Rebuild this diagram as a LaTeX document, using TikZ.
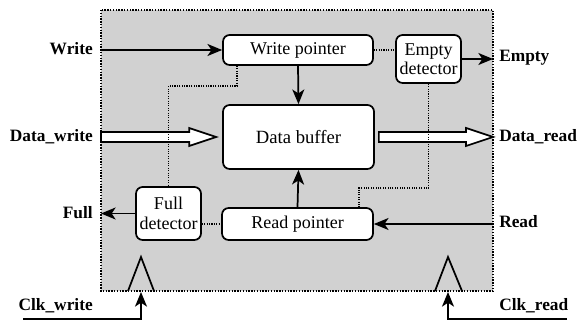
\documentclass[tikz,border=0pt]{standalone}
\usepackage{fontspec}
\setmainfont{Liberation Serif}
\usetikzlibrary{arrows.meta,calc}
\newcommand{\fatarrow}[2]{%
  \draw[fat] ($(#1)+(0,-5)$) -- ($(#2)+(-27,-5)$) -- ($(#2)+(-27,-9)$) -- (#2)
    -- ($(#2)+(-27,9)$) -- ($(#2)+(-27,5)$) -- ($(#1)+(0,5)$) -- cycle;}

\begin{document}
\begin{tikzpicture}[x=0.75pt,y=-0.75pt,
    blk/.style={draw,line width=1.3pt,rounded corners=5pt,fill=white,align=center,
      inner sep=0pt,font=\fontsize{13.5}{14.5}\selectfont},
    lbl/.style={inner sep=0pt,font=\fontsize{13}{15}\selectfont\bfseries},
    arr/.style={-{Stealth[length=11pt,width=9pt,inset=3pt]},line width=1.3pt},
    sig/.style={densely dotted,line width=0.8pt},
    fat/.style={line width=1.3pt,fill=white}]
    \useasboundingbox (0,0) rectangle (585,320);
    \coordinate (nw) at (101,10);
    \coordinate (se) at (493,291);
    \fill[black!18] (nw) rectangle (se);
    \draw[densely dotted,line width=1.1pt] (nw) rectangle (se);

    \node[blk,minimum width=112.5pt,minimum height=22.5pt] (wp) at (298,50) {Write pointer};
    \node[blk,minimum width=48.75pt,minimum height=36pt] (ed) at (428.5,59) {Empty\\detector};
    \node[blk,minimum width=113.25pt,minimum height=48pt,font=\fontsize{14}{15}\selectfont] (buf) at (298.5,137) {Data buffer};
    \node[blk,minimum width=113.25pt,minimum height=24pt] (rp) at (297.5,224) {Read pointer};
    \node[blk,minimum width=48.75pt,minimum height=39.75pt] (fd) at (168.5,213.5) {Full\\detector};

    \node[lbl,anchor=east] (lwr) at (93,49) {Write};
    \node[lbl,anchor=east] (ldw) at (93,137) {Data\_write};
    \node[lbl,anchor=east] (lfu) at (93,213) {Full};
    \node[lbl,anchor=east] (lcw) at (93,306) {Clk\_write};
    \node[lbl,anchor=west] (lem) at (499,58) {Empty};
    \node[lbl,anchor=west] (ldr) at (499,137) {Data\_read};
    \node[lbl,anchor=west] (lrd) at (499,222) {Read};
    \node[lbl,anchor=west] (lcr) at (499,306) {Clk\_read};

    \draw[arr] (nw |- wp.west) -- (wp.west);
    \draw[arr] (ed.east) -- (ed.east -| se);
    \draw[arr] (fd.west) -- (fd.west -| nw);
    \draw[arr] (se |- rp.east) -- (rp.east);
    \draw[arr] (wp.south) -- (buf.north);
    \draw[arr] (rp.north) -- (buf.south);

    \coordinate (dw0) at (nw |- buf.west);
    \coordinate (dw1) at ([xshift=-4.5pt]buf.west);
    \coordinate (dr0) at ([xshift=3pt]buf.east);
    \coordinate (dr1) at (se |- buf.east);
    \fatarrow{dw0}{dw1}
    \fatarrow{dr0}{dr1}

    \coordinate (wpa) at (237,86);
    \coordinate (rpa) at (359,188);
    \draw[sig] (wp.east) -- (wp.east -| ed.west);
    \draw[sig] (wpa |- wp.south) -- (wpa) -| (fd.north);
    \draw[sig] (ed.south) |- (rpa) -- (rpa |- rp.north);
    \draw[sig] (fd.east |- rp.west) -- (rp.west);

    \draw[line width=1.3pt] (128,291) -- (141,257) -- (154,291);
    \draw[line width=1.3pt] (435,291) -- (448,257) -- (462,291);
    \coordinate (cw0) at (23,319);
    \coordinate (cw1) at (141,292);
    \coordinate (cr0) at (567,319);
    \coordinate (cr1) at (448,292);
    \draw[arr] (cw0) -| (cw1);
    \draw[arr] (cr0) -| (cr1);
\end{tikzpicture}
\end{document}
